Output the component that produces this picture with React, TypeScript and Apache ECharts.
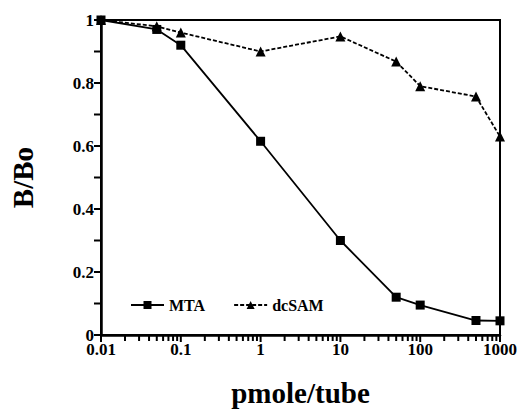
import React, { useEffect, useRef } from "react";
import * as echarts from "echarts";

const xValues = [0.01, 0.05, 0.1, 1, 10, 50, 100, 500, 1000];
const mtaValues = [1.0, 0.97, 0.92, 0.615, 0.3, 0.12, 0.095, 0.046, 0.045];
const dcsamValues = [1.0, 0.98, 0.96, 0.9, 0.948, 0.868, 0.79, 0.757, 0.63];
const xTickLabels = ["0.01", "0.1", "1", "10", "100", "1000"];
const xMajorTicks = [0.01, 0.1, 1, 10, 100, 1000];
const decades = [0.01, 0.1, 1, 10, 100];
const minorMultipliers = [2, 3, 4, 5, 6, 7, 8, 9];
const yTicks = [0, 0.1, 0.2, 0.3, 0.4, 0.5, 0.6, 0.7, 0.8, 0.9, 1];

const FONT = "Liberation Serif";

function tickSeries(name: string, data: number[][], dx: number, dy: number) {
  return {
    name,
    type: "custom",
    silent: true,
    clip: false,
    data,
    encode: { x: 0, y: 1 },
    renderItem: (params: any, api: any) => {
      const p = api.coord([api.value(0), api.value(1)]);
      return {
        type: "line",
        shape: { x1: p[0], y1: p[1], x2: p[0] + dx, y2: p[1] + dy },
        style: { stroke: "#000", lineWidth: 2 },
      };
    },
    z: 5,
  };
}

export default function App() {
  const ref = useRef<HTMLDivElement>(null);
  useEffect(() => {
    document.body.style.margin = "0";
    if (!ref.current) return;
    const chart = echarts.init(ref.current, null, { renderer: "svg" });
    const xMajorData = xMajorTicks.map((v) => [v, 0]);
    const xMinorData: number[][] = [];
    decades.forEach((d) =>
      minorMultipliers.forEach((m) => xMinorData.push([+(d * m).toPrecision(3), 0]))
    );
    const yTickData = yTicks.map((v) => [0.01, v]);
    chart.setOption({
      animation: false,
      backgroundColor: "#fff",
      grid: {
        left: 99,
        right: 20,
        top: 20,
        bottom: 67,
        show: true,
        borderColor: "#000",
        borderWidth: 2,
        backgroundColor: "transparent",
      },
      legend: {
        data: ["MTA", "dcSAM"],
        left: 130,
        top: 297,
        padding: 0,
        itemWidth: 33,
        itemHeight: 10,
        itemGap: 28,
        textStyle: { fontFamily: FONT, fontSize: 16, fontWeight: "bold", color: "#000" },
      },
      xAxis: {
        type: "log",
        logBase: 10,
        min: 0.01,
        max: 1000,
        name: "pmole/tube",
        nameLocation: "middle",
        nameGap: 43,
        nameTextStyle: { fontFamily: FONT, fontSize: 29, fontWeight: "bold", color: "#000" },
        axisLine: { show: true, lineStyle: { color: "#000", width: 2.5 } },
        axisTick: { show: false },
        axisLabel: {
          fontFamily: FONT,
          fontSize: 17,
          fontWeight: "bold",
          color: "#000",
          margin: 6,
          formatter: (v: number) => {
            const i = Math.round(Math.log10(v)) + 2;
            return xTickLabels[i] ?? String(v);
          },
        },
        splitLine: { show: false },
      },
      yAxis: {
        type: "value",
        min: 0,
        max: 1,
        interval: 0.2,
        name: "B/Bo",
        nameLocation: "middle",
        nameGap: 64,
        nameTextStyle: { fontFamily: FONT, fontSize: 29, fontWeight: "bold", color: "#000" },
        axisLine: { show: true, lineStyle: { color: "#000", width: 2.5 } },
        axisTick: { show: false },
        minorTick: { show: false },
        axisLabel: {
          fontFamily: FONT,
          fontSize: 17,
          fontWeight: "bold",
          color: "#000",
          margin: 7,
        },
        splitLine: { show: false },
      },
      series: [
        {
          name: "MTA",
          type: "line",
          data: xValues.map((x, i) => [x, mtaValues[i]]),
          symbol: "rect",
          symbolSize: 9,
          itemStyle: { color: "#000" },
          lineStyle: { color: "#000", width: 1.8, type: "solid" },
          z: 3,
        },
        {
          name: "dcSAM",
          type: "line",
          data: xValues.map((x, i) => [x, dcsamValues[i]]),
          symbol: "triangle",
          symbolSize: 10,
          itemStyle: { color: "#000" },
          lineStyle: { color: "#000", width: 1.8, type: [4, 2] },
          z: 2,
        },
        tickSeries("xMajorTicks", xMajorData, 0, 7),
        tickSeries("xMinorTicks", xMinorData, 0, 6),
        tickSeries("yTicks", yTickData, -7, 0),
      ],
    });
    return () => chart.dispose();
  }, []);
  return <div ref={ref} style={{ width: 520, height: 412 }} />;
}
